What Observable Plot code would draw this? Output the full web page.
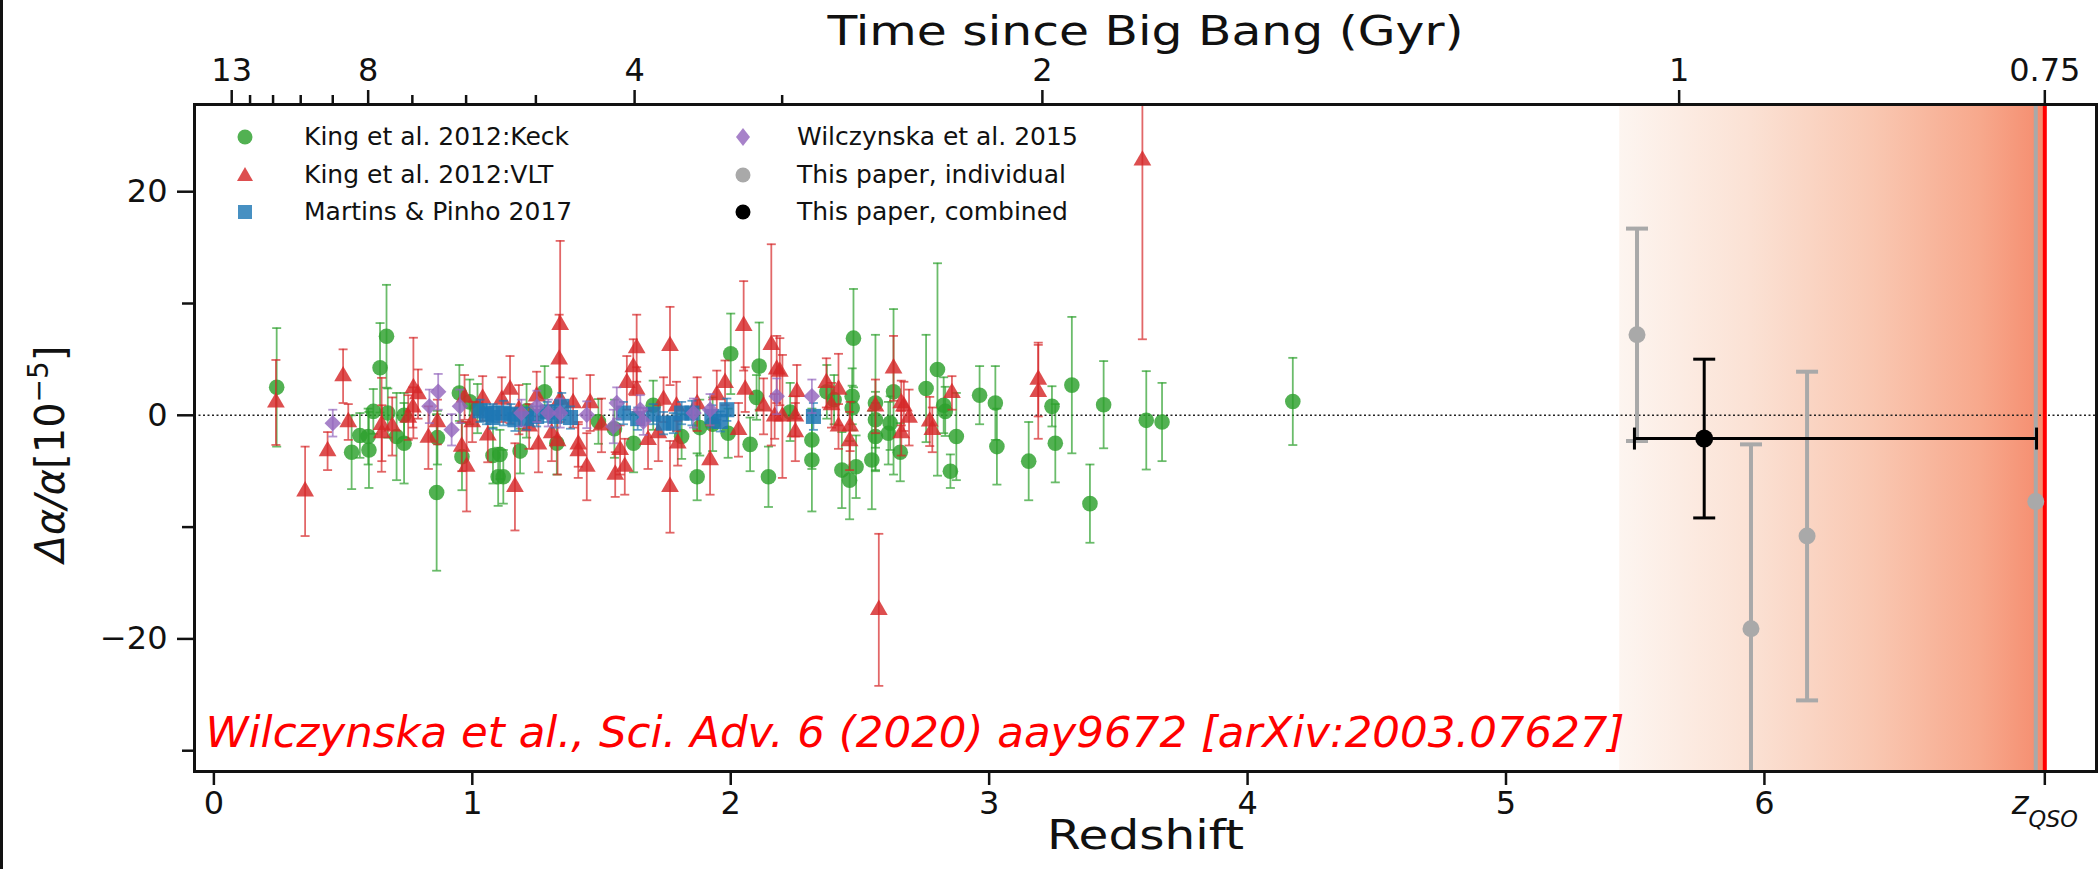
<!DOCTYPE html>
<html><head><meta charset="utf-8">
<script src="https://cdn.jsdelivr.net/npm/d3@7"></script>
<script src="https://cdn.jsdelivr.net/npm/@observablehq/plot@0.6"></script>
<style>
html,body{margin:0;padding:0;background:#fff;}
#wrap{position:relative;width:2100px;height:869px;overflow:hidden;background:#fff;}
#edge{position:absolute;left:0;top:0;width:3px;height:869px;background:#111;}
.leg{position:absolute;font-family:"DejaVu Sans";font-size:25px;line-height:1;white-space:nowrap;color:#111;}
.legm{position:absolute;width:24px;height:24px;}
</style></head><body><div id="wrap"><div id="edge"></div></div>
<script>
// ---- data: [redshift, delta alpha / alpha (1e-5), 1-sigma error] ----
const keck = [
[0.243,2.5,5.3],[0.533,-3.3,3.3],[0.565,-1.8,2.0],[0.600,-3.1,3.4],[0.597,-1.9,2.5],[0.617,0.35,2.0],
[0.643,4.25,4.0],[0.668,7.07,4.6],[0.673,0.2,2.2],[0.707,-1.9,3.9],[0.736,-2.5,3.6],[0.736,0.0,2.0],
[0.862,-6.9,7.0],[0.865,-2.0,2.4],[0.960,-3.7,3.0],[0.950,2.0,2.5],[0.990,1.2,2.0],[1.080,-3.6,2.5],
[1.100,-5.5,2.6],[1.107,-3.5,2.2],[1.120,-5.5,2.4],[1.185,-3.2,2.0],[1.280,2.1,2.3],[1.327,-2.5,2.8],
[1.488,-0.55,2.0],[1.624,-2.5,2.6],[1.810,-1.9,2.0],[1.870,-5.5,2.1],[1.880,-1.1,2.5],[1.990,-1.6,2.2],
[2.000,5.5,3.6],[2.075,-2.6,2.4],[2.110,4.4,3.9],[2.146,-5.5,2.7],[2.100,1.6,2.0],[2.475,6.9,4.4],
[2.470,1.7,2.5],[2.470,0.65,2.0],[2.314,-2.2,2.6],[2.314,-4.0,4.6],[2.430,-4.9,3.4],[2.460,-5.8,3.5],
[2.485,-4.6,2.8],[2.546,-4.0,4.4],[2.560,1.1,6.1],[2.560,-0.4,2.5],[2.560,-1.9,3.0],[2.630,2.1,7.4],
[2.617,-0.7,2.4],[2.610,-1.6,2.8],[2.656,-3.3,2.6],[2.372,2.1,2.4],[2.400,1.4,2.2],[2.756,2.4,4.8],
[2.800,4.1,9.5],[2.824,0.9,2.5],[2.830,0.35,2.2],[2.873,-1.9,3.9],[2.850,-5.0,1.5],[2.963,1.8,2.6],
[3.024,1.1,3.3],[3.030,-2.8,3.4],[3.153,-4.1,3.5],[3.243,0.8,1.8],[3.256,-2.5,3.5],[3.320,2.7,6.1],
[3.443,0.95,3.9],[3.390,-7.9,3.5],[3.608,-0.45,4.4],[3.669,-0.6,3.5],[4.175,1.24,3.9],
[1.020,0.6,2.2],[1.210,0.4,2.4],[1.550,-1.2,2.6],[1.700,0.9,2.2],[1.930,-0.8,2.4],[2.230,0.3,2.6]
];
const vlt = [
[0.240,1.15,3.8],[0.353,-6.8,4.0],[0.440,-3.2,1.7],[0.500,3.5,2.4],[0.520,-0.6,1.6],[0.649,-0.85,4.2],
[0.650,-1.6,2.5],[0.772,2.44,4.5],[0.752,-0.2,2.0],[0.790,1.9,2.2],[0.770,0.7,1.8],[0.865,-0.6,2.0],
[0.959,-2.8,2.2],[0.978,-4.6,4.0],[0.970,1.6,2.0],[1.000,-0.6,1.8],[1.040,1.5,2.0],[1.146,2.3,3.0],
[1.165,-6.4,3.9],[1.114,1.4,2.0],[1.249,1.7,2.2],[1.256,-2.6,2.5],[1.220,-1.0,2.0],[1.340,8.1,7.5],
[1.336,5.0,4.0],[1.340,1.4,2.0],[1.330,-2.3,3.0],[1.307,-1.6,2.5],[1.390,1.1,2.2],[1.410,-2.6,2.0],
[1.410,-3.2,2.4],[1.443,-4.6,3.0],[1.456,1.1,2.5],[1.553,-5.3,2.0],[1.590,-4.6,2.5],[1.572,-3.1,2.2],
[1.598,2.9,2.4],[1.623,4.3,2.5],[1.636,6.0,3.0],[1.636,2.3,2.0],[1.720,-1.6,2.5],[1.740,1.4,2.0],
[1.765,6.2,3.5],[1.765,-6.4,4.1],[1.790,0.8,2.2],[1.795,-2.5,2.0],[1.920,-4.0,3.1],[1.946,1.8,2.2],
[1.978,2.9,2.0],[2.030,-1.3,2.4],[2.050,8.0,4.0],[2.056,2.3,2.0],[2.127,0.8,2.5],[2.157,6.3,9.0],
[2.178,4.1,3.0],[2.170,-0.1,2.0],[2.200,-0.1,5.5],[2.190,3.9,3.0],[2.256,2.1,2.4],[2.250,-1.5,2.6],
[2.250,-0.1,1.8],[2.370,2.9,2.2],[2.390,0.9,2.0],[2.417,2.3,3.2],[2.417,-1.0,2.0],[2.462,-1.0,2.2],
[2.460,-2.3,2.6],[2.573,-17.4,6.8],[2.560,0.8,2.4],[2.630,4.2,2.9],[2.660,1.1,2.0],[2.670,0.8,2.2],
[2.660,-1.6,2.0],[2.690,-0.2,2.5],[2.770,-0.55,2.2],[2.780,-1.3,2.0],[2.856,2.0,1.5],[3.190,3.2,3.3],
[3.190,2.1,4.2],[3.593,22.8,16.0],
[0.690,-1.0,2.6],[0.830,-2.0,2.8],[1.060,-1.8,2.4],[1.180,0.5,2.2],[1.500,-0.9,2.4],[1.680,-2.2,2.6],[1.870,1.0,2.4]
];
const martins = [
[1.030,0.4,1.0],[1.055,0.1,0.9],[1.080,-0.2,1.0],[1.081,0.2,0.8],[1.120,0.2,1.1],[1.165,-0.4,1.0],
[1.249,-0.1,0.9],[1.320,-0.1,1.0],[1.346,0.8,1.2],[1.585,0.2,1.0],[1.740,-0.7,1.0],[1.778,-0.7,0.9],
[1.810,0.2,1.0],[1.850,0.2,1.1],[1.927,-0.1,1.0],[1.960,-0.55,0.9],[1.985,0.5,1.0],[2.320,-0.1,1.2],
[1.150,0.1,0.9],[1.210,-0.3,1.0],[1.290,0.3,0.9],[1.380,-0.2,1.0],[1.640,-0.3,1.0],[1.700,0.1,0.9]
];
const wilc15 = [
[0.460,-0.7,1.2],[0.834,0.8,1.5],[0.868,2.1,1.6],[0.920,-1.3,1.4],[0.952,0.8,1.5],[1.190,0.2,1.2],
[1.250,0.8,1.4],[1.294,0.2,1.2],[1.340,0.2,1.3],[1.443,0.05,1.2],[1.546,-1.0,1.5],[1.559,1.1,1.4],
[1.650,0.5,1.3],[1.662,-0.55,1.2],[1.856,0.2,1.3],[1.920,0.5,1.4],[2.178,1.7,1.6],[2.314,1.7,1.5]
];
const thisIndividual = [[5.507,7.2,9.5],[5.948,-19.1,16.5],[6.165,-10.8,14.7],[7.050,-7.7,45]];
const thisCombined = [{z:5.767, v:-2.08, err:7.1, zLo:5.497, zHi:7.053}];

const zQSO = 7.085;
const gradStartZ = 5.44;
const xTicks = [0,1,2,3,4,5,6,zQSO];
const xTickLabels = ["0","1","2","3","4","5","6","zQSO"];
const topAges = [13,12,11,10,9,8,7,6,5,4,3,2,1,0.75];
const topAgeZ = [0.069,0.140,0.229,0.336,0.460,0.597,0.768,0.976,1.246,1.628,2.199,3.206,5.67,zQSO];
const topLabeledAges = [13,8,4,2,1,0.75];
const yMajor = [-20,0,20];
const yMinor = [-30,-10,10];

const legendItems = [
  {label:"King et al. 2012:Keck", shape:"circle", color:"#2ca02c"},
  {label:"King et al. 2012:VLT", shape:"triangle", color:"#d62728"},
  {label:"Martins & Pinho 2017", shape:"square", color:"#1f77b4"},
  {label:"Wilczynska et al. 2015", shape:"diamond", color:"#9467bd"},
  {label:"This paper, individual", shape:"circle", color:"#a9a9a9"},
  {label:"This paper, combined", shape:"circle", color:"#000000"}
];
const citation = "Wilczynska et al., Sci. Adv. 6 (2020) aay9672 [arXiv:2003.07627]";

// ---- helpers ----
const capH = {draw(ctx, size){ const r = Math.sqrt(size/Math.PI); ctx.moveTo(-r,0); ctx.lineTo(r,0); }};
const capV = {draw(ctx, size){ const r = Math.sqrt(size/Math.PI); ctx.moveTo(0,-r); ctx.lineTo(0,r); }};

function series(data, color, symbol, r, barW, capR, barOp, dotOp) {
  return [
    Plot.ruleX(data, {x: d=>d[0], y1: d=>d[1]-d[2], y2: d=>d[1]+d[2], stroke: color, strokeWidth: barW, strokeOpacity: barOp, clip: true}),
    Plot.dot(data, {x: d=>d[0], y: d=>d[1]+d[2], symbol: capH, r: capR, stroke: color, fill: "none", strokeWidth: barW, strokeOpacity: barOp, clip: true}),
    Plot.dot(data, {x: d=>d[0], y: d=>d[1]-d[2], symbol: capH, r: capR, stroke: color, fill: "none", strokeWidth: barW, strokeOpacity: barOp, clip: true}),
    Plot.dot(data, {x: d=>d[0], y: d=>d[1], symbol, r, fill: color, fillOpacity: dotOp, stroke: "none", clip: true})
  ];
}

const topMajorZ = topAgeZ.filter((z,i)=>topLabeledAges.includes(topAges[i]));
const topMinorZ = topAgeZ.filter((z,i)=>!topLabeledAges.includes(topAges[i]));
const topLabelOf = new Map(topAgeZ.map((z,i)=>[z, String(topAges[i])]));
const xLabelOf = new Map(xTicks.map((z,i)=>[z, xTickLabels[i]]));

const chart = Plot.plot({
  width: 2100, height: 869,
  marginLeft: 194, marginRight: 4, marginTop: 104, marginBottom: 98,
  x: {domain: [-0.075, 7.285]},
  y: {domain: [-31.86, 27.8]},
  style: {fontFamily: "DejaVu Sans", fontSize: "32px", color: "#111", background: "transparent"},
  marks: [
    Plot.rect([0], {x1: gradStartZ, x2: zQSO, fill: "url(#zgrad)"}),
    Plot.ruleY([0], {stroke: "#222", strokeWidth: 1.4, strokeDasharray: "2,2.5"}),
    ...series(keck, "#2ca02c", "circle", 7.8, 1.8, 4.5, 0.7, 0.82),
    ...series(vlt, "#d62728", "triangle", 6.6, 1.8, 4.5, 0.7, 0.82),
    ...series(martins, "#1f77b4", "square", 8.5, 1.8, 4.5, 0.7, 0.85),
    ...series(wilc15, "#9467bd", "diamond2", 7.4, 1.8, 4.5, 0.7, 0.82),
    Plot.ruleX([zQSO], {stroke: "#ff0000", strokeWidth: 4}),
    ...series(thisIndividual, "#a9a9a9", "circle", 8.5, 4, 11, 1, 1),
    Plot.ruleY(thisCombined, {x1: "zLo", x2: "zHi", y: "v", stroke: "#000", strokeWidth: 3}),
    Plot.dot(thisCombined, {x: "zLo", y: "v", symbol: capV, r: 11, stroke: "#000", strokeWidth: 3, fill: "none"}),
    Plot.dot(thisCombined, {x: "zHi", y: "v", symbol: capV, r: 11, stroke: "#000", strokeWidth: 3, fill: "none"}),
    Plot.ruleX(thisCombined, {x: "z", y1: d=>d.v-d.err, y2: d=>d.v+d.err, stroke: "#000", strokeWidth: 3}),
    Plot.dot(thisCombined, {x: "z", y: d=>d.v+d.err, symbol: capH, r: 11, stroke: "#000", strokeWidth: 3, fill: "none"}),
    Plot.dot(thisCombined, {x: "z", y: d=>d.v-d.err, symbol: capH, r: 11, stroke: "#000", strokeWidth: 3, fill: "none"}),
    Plot.dot(thisCombined, {x: "z", y: "v", r: 9, fill: "#000"}),
    Plot.text([citation], {frameAnchor: "bottom-left", dx: 11, dy: -25, textAnchor: "start", lineAnchor: "bottom", text: d=>d, fill: "#ff0000", fontSize: 43, fontStyle: "italic", fontFamily: "DejaVu Sans"}),
    Plot.frame({stroke: "#111", strokeWidth: 3}),
    Plot.axisX({anchor: "bottom", ticks: xTicks, tickFormat: d=>xLabelOf.get(d), tickSize: 14, tickPadding: 6, strokeWidth: 2.5, fontSize: 32, label: null}),
    Plot.axisX({anchor: "top", ticks: topMajorZ, tickFormat: d=>topLabelOf.get(d), tickSize: 15, tickPadding: 9, strokeWidth: 2.5, fontSize: 32, label: null}),
    Plot.axisX({anchor: "top", ticks: topMinorZ, tickFormat: ()=>"", tickSize: 10, strokeWidth: 2.5, label: null}),
    Plot.axisY({anchor: "left", ticks: yMajor, tickSize: 17, tickPadding: 10, strokeWidth: 2.5, fontSize: 32, label: null}),
    Plot.axisY({anchor: "left", ticks: yMinor, tickFormat: ()=>"", tickSize: 12, strokeWidth: 2.5, label: null}),
    Plot.text(["Time since Big Bang (Gyr)"], {frameAnchor: "top", dy: -60, lineAnchor: "bottom", text: d=>d, fontSize: 41}),
    Plot.text(["Redshift"], {frameAnchor: "bottom", dy: 77, lineAnchor: "bottom", text: d=>d, fontSize: 41}),
    Plot.text(["Δα/α[10−5]"], {frameAnchor: "left", dx: -143, dy: 16, rotate: -90, textAnchor: "middle", text: d=>d, fontSize: 40})
  ]
});

// gradient definition for the emission-window shading
const NS = "http://www.w3.org/2000/svg";
const defs = document.createElementNS(NS, "defs");
const lg = document.createElementNS(NS, "linearGradient");
lg.setAttribute("id", "zgrad"); lg.setAttribute("x1", "0"); lg.setAttribute("x2", "1"); lg.setAttribute("y1", "0"); lg.setAttribute("y2", "0");
[["0","rgb(253,245,240)"],["0.3","rgb(251,226,213)"],["0.6","rgb(249,199,177)"],["0.85","rgb(247,168,140)"],["1","rgb(245,140,110)"]].forEach(([o,c])=>{
  const s = document.createElementNS(NS, "stop"); s.setAttribute("offset", o); s.setAttribute("stop-color", c); lg.appendChild(s);
});
defs.appendChild(lg);
chart.insertBefore(defs, chart.firstChild);

const wrap = document.getElementById("wrap");
wrap.appendChild(chart);
chart.style.position = "absolute"; chart.style.left = "0"; chart.style.top = "0";

for (const t of chart.querySelectorAll("text")) {
  const s = t.textContent;
  if (s === "zQSO") {
    t.textContent = "";
    const a = document.createElementNS(NS, "tspan"); a.setAttribute("font-style","italic"); a.textContent = "z";
    const b = document.createElementNS(NS, "tspan"); b.setAttribute("font-style","italic"); b.setAttribute("font-size","70%"); b.setAttribute("baseline-shift","sub"); b.textContent = "QSO";
    t.append(a, b);
  } else if (s === "Δα/α[10−5]") {
    t.textContent = "";
    const a = document.createElementNS(NS, "tspan"); a.setAttribute("font-style","italic"); a.textContent = "Δα/α";
    const b = document.createElementNS(NS, "tspan"); b.textContent = "[10";
    const c = document.createElementNS(NS, "tspan"); c.setAttribute("font-size","70%"); c.setAttribute("baseline-shift","super"); c.textContent = "−5";
    const e = document.createElementNS(NS, "tspan"); e.textContent = "]";
    t.append(a, b, c, e);
  } else if (s === "Time since Big Bang (Gyr)") {
    t.setAttribute("textLength", "636"); t.setAttribute("lengthAdjust", "spacingAndGlyphs");
  } else if (s === "Redshift") {
    t.setAttribute("textLength", "197"); t.setAttribute("lengthAdjust", "spacingAndGlyphs");
  } else if (s === citation) {
    t.setAttribute("textLength", "1419"); t.setAttribute("lengthAdjust", "spacingAndGlyphs");
  }
}

// legend (HTML overlay inside the axes, top-left)
const colMarkerX = [245, 743], colTextX = [304, 797], rowY = [137, 174.5, 212];
const shapes = {
  circle: '<circle cx="12" cy="12" r="7.5"/>',
  triangle: '<path d="M12,4L20,18L4,18Z"/>',
  square: '<rect x="5" y="5" width="14" height="14"/>',
  diamond: '<path d="M12,3L19,12L12,21L5,12Z"/>'
};
legendItems.forEach((it, i) => {
  const col = Math.floor(i/3), row = i%3;
  const m = document.createElement("div");
  m.className = "legm";
  m.style.left = (colMarkerX[col]-12) + "px"; m.style.top = (rowY[row]-12) + "px";
  const op = it.color === "#000000" || it.color === "#a9a9a9" ? 1 : 0.82;
  m.innerHTML = `<svg width="24" height="24" fill="${it.color}" fill-opacity="${op}">${shapes[it.shape]}</svg>`;
  wrap.appendChild(m);
  const l = document.createElement("div");
  l.className = "leg"; l.textContent = it.label;
  l.style.left = colTextX[col] + "px"; l.style.top = (rowY[row]-13) + "px";
  wrap.appendChild(l);
});
</script></body></html>
